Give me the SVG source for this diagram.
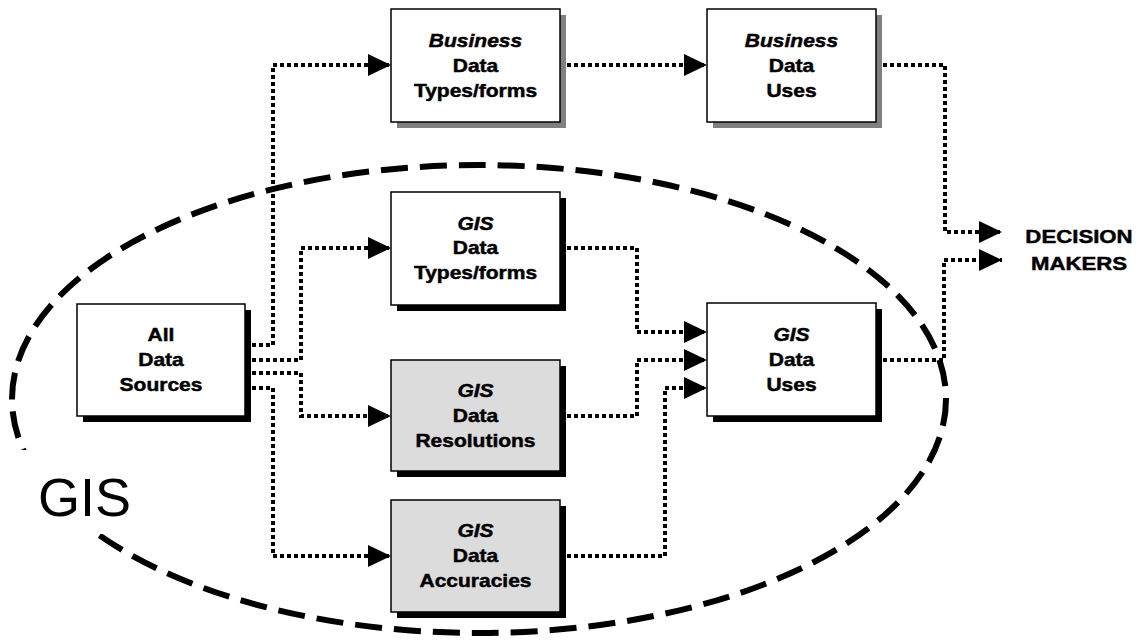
<svg xmlns="http://www.w3.org/2000/svg" width="1148" height="643" viewBox="0 0 1148 643">
<style>
.box{stroke:#000;stroke-width:1.5}
.w{fill:#fff}
.g{fill:#dcdcdc}
.sh-k{fill:#000}
.sh-g{fill:#808080}
.t{font-family:"Liberation Sans",Arial,sans-serif;font-weight:bold;font-size:17.5px;text-anchor:middle;fill:#000;stroke:#000;stroke-width:0.45}
.i{font-style:italic}
.dm{font-family:"Liberation Sans",Arial,sans-serif;font-weight:bold;font-size:18.5px;text-anchor:middle;fill:#000;stroke:#000;stroke-width:0.45}
.c{fill:none;stroke:#000;stroke-width:4;stroke-dasharray:4 3;stroke-linejoin:miter}
</style>
<defs>
<marker id="ah" markerUnits="userSpaceOnUse" markerWidth="23" markerHeight="22" viewBox="0 0 23 22" refX="23" refY="11" orient="auto">
<path d="M0,0 L23,11 L0,22 Z" fill="#000"/>
</marker>
</defs>
<rect width="1148" height="643" fill="#fff"/>

<g id="gis-region">
<ellipse cx="479" cy="399" rx="467" ry="234" fill="none" stroke="#000" stroke-width="6" stroke-dasharray="27 12"/>
<rect x="14" y="450" width="120" height="84" fill="#fff"/>
<text x="38" y="516" font-family="'Liberation Sans',Arial,sans-serif" font-size="54">GIS</text>
</g>

<g id="connectors">
<path class="c" d="M245 345 H273 V65 H391" marker-end="url(#ah)"/>
<path class="c" d="M245 360 H301 V248 H391" marker-end="url(#ah)"/>
<path class="c" d="M245 373 H301 V416 H391" marker-end="url(#ah)"/>
<path class="c" d="M245 388 H273 V556 H391" marker-end="url(#ah)"/>
<path class="c" d="M560 65 H707" marker-end="url(#ah)"/>
<path class="c" d="M876 65 H945 V232 H1002" marker-end="url(#ah)"/>
<path class="c" d="M560 248 H637 V332 H707" marker-end="url(#ah)"/>
<path class="c" d="M560 416 H637 V360 H707" marker-end="url(#ah)"/>
<path class="c" d="M560 556 H665 V388 H707" marker-end="url(#ah)"/>
<path class="c" d="M876 360 H944 V260 H1002" marker-end="url(#ah)"/>
</g>

<g id="business-types">
<rect class="sh-g" x="397" y="15" width="169" height="113"/>
<rect class="box w" x="391" y="9" width="169" height="113"/>
<g transform="translate(475.5,0) scale(1.2,1)">
<text class="t i" x="0" y="47">Business</text>
<text class="t" x="0" y="72">Data</text>
<text class="t" x="0" y="97">Types/forms</text>
</g>
</g>

<g id="business-uses">
<rect class="sh-g" x="713" y="15" width="169" height="113"/>
<rect class="box w" x="707" y="9" width="169" height="113"/>
<g transform="translate(791.5,0) scale(1.2,1)">
<text class="t i" x="0" y="47">Business</text>
<text class="t" x="0" y="72">Data</text>
<text class="t" x="0" y="97">Uses</text>
</g>
</g>

<g id="all-data-sources">
<rect class="sh-k" x="83" y="310" width="168" height="112"/>
<rect class="box w" x="77" y="304" width="168" height="112"/>
<g transform="translate(161,0) scale(1.2,1)">
<text class="t" x="0" y="341">All</text>
<text class="t" x="0" y="366">Data</text>
<text class="t" x="0" y="391">Sources</text>
</g>
</g>

<g id="gis-types">
<rect class="sh-k" x="397" y="198" width="169" height="113"/>
<rect class="box w" x="391" y="192" width="169" height="113"/>
<g transform="translate(475.5,0) scale(1.2,1)">
<text class="t i" x="0" y="230">GIS</text>
<text class="t" x="0" y="254">Data</text>
<text class="t" x="0" y="279">Types/forms</text>
</g>
</g>

<g id="gis-resolutions">
<rect class="sh-k" x="397" y="366" width="169" height="111"/>
<rect class="box g" x="391" y="360" width="169" height="111"/>
<g transform="translate(475.5,0) scale(1.2,1)">
<text class="t i" x="0" y="397">GIS</text>
<text class="t" x="0" y="422">Data</text>
<text class="t" x="0" y="447">Resolutions</text>
</g>
</g>

<g id="gis-accuracies">
<rect class="sh-k" x="397" y="506" width="169" height="112"/>
<rect class="box g" x="391" y="500" width="169" height="112"/>
<g transform="translate(475.5,0) scale(1.2,1)">
<text class="t i" x="0" y="537">GIS</text>
<text class="t" x="0" y="562">Data</text>
<text class="t" x="0" y="587">Accuracies</text>
</g>
</g>

<g id="gis-uses">
<rect class="sh-k" x="713" y="309" width="169" height="113"/>
<rect class="box w" x="707" y="303" width="169" height="113"/>
<g transform="translate(791.5,0) scale(1.2,1)">
<text class="t i" x="0" y="341">GIS</text>
<text class="t" x="0" y="366">Data</text>
<text class="t" x="0" y="391">Uses</text>
</g>
</g>

<g id="decision-makers">
<g transform="translate(1079,0) scale(1.2,1)">
<text class="dm" x="0" y="243">DECISION</text>
<text class="dm" x="0" y="270">MAKERS</text>
</g>
</g>
</svg>
